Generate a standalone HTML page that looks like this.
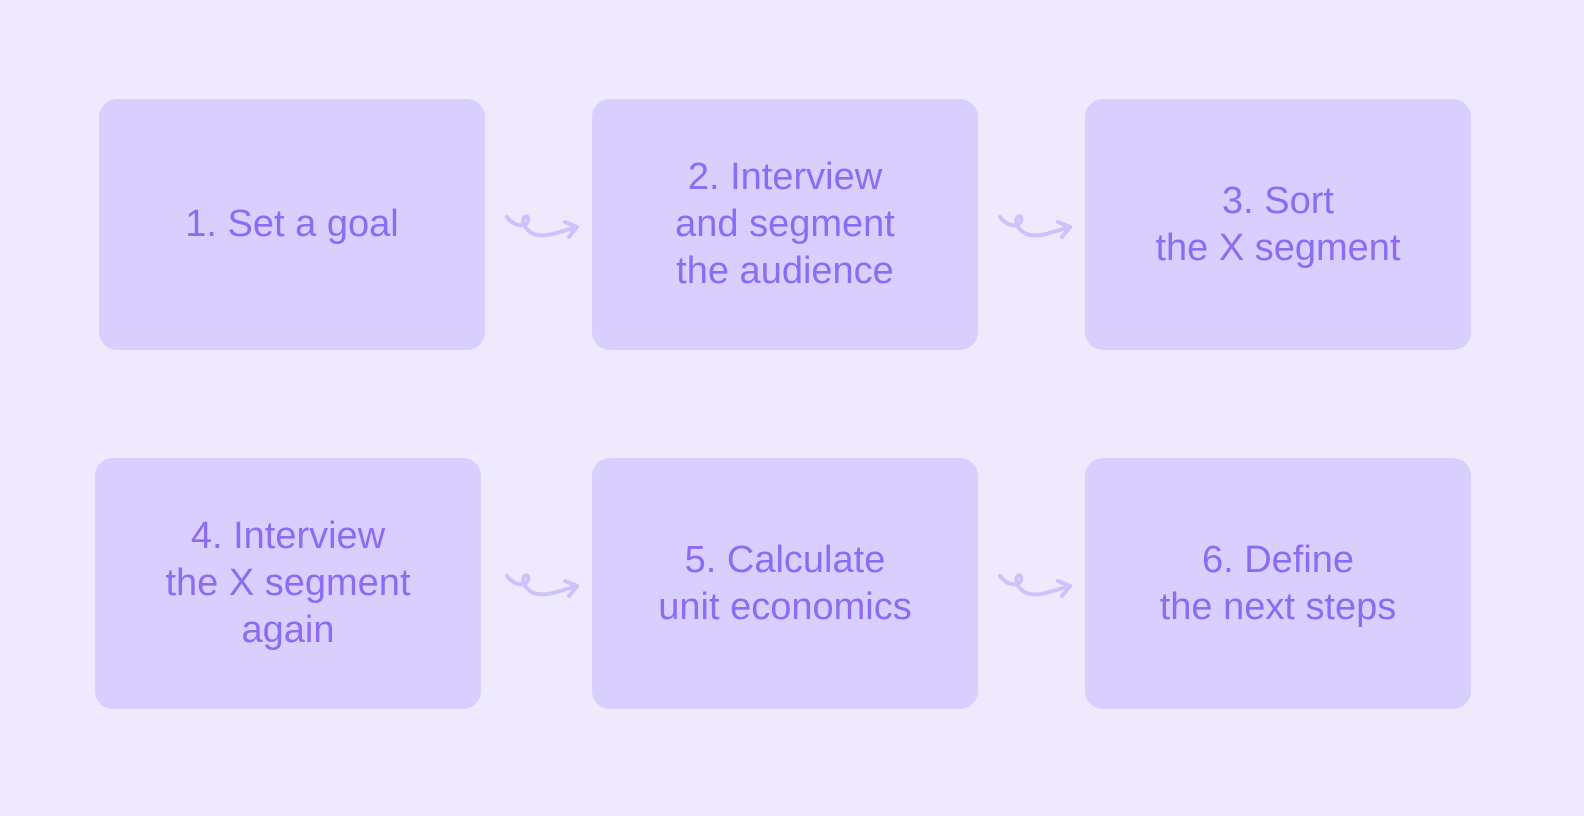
<html><head><style>
body{margin:0;width:1584px;height:816px;background:#efe9fe;position:relative;overflow:hidden;font-family:"Liberation Sans",sans-serif}
.b{position:absolute;width:386px;height:251px;background:#d8cfff;border-radius:18px;display:flex;align-items:center;justify-content:center;text-align:center;color:#8d6cf3;font-size:38px;line-height:47px}
svg{position:absolute}
</style></head><body>
<div class="b" style="left:99px;top:99px">1. Set a goal</div>
<div class="b" style="left:592px;top:99px">2. Interview<br>and segment<br>the audience</div>
<div class="b" style="left:1085px;top:99px">3. Sort<br>the X segment</div>
<div class="b" style="left:95px;top:458px">4. Interview<br>the X segment<br>again</div>
<div class="b" style="left:592px;top:458px">5. Calculate<br>unit economics</div>
<div class="b" style="left:1085px;top:458px">6. Define<br>the next steps</div>
<svg width="1584" height="816" style="left:0;top:0">
<defs><g id="a" fill="none" stroke="#cdc2fb" stroke-width="4" stroke-linecap="round" stroke-linejoin="round">
<path d="M0 0 C6 8 14 10 19 7 C24 3 20 -4 17 1 C14 6 20 16 30 18 C42 20 55 14 70 10"/>
<path d="M58 5 L70 10 L62 20"/></g></defs>
<use href="#a" x="507" y="217"/>
<use href="#a" x="1000" y="217"/>
<use href="#a" x="507" y="576"/>
<use href="#a" x="1000" y="576"/>
</svg>
</body></html>
